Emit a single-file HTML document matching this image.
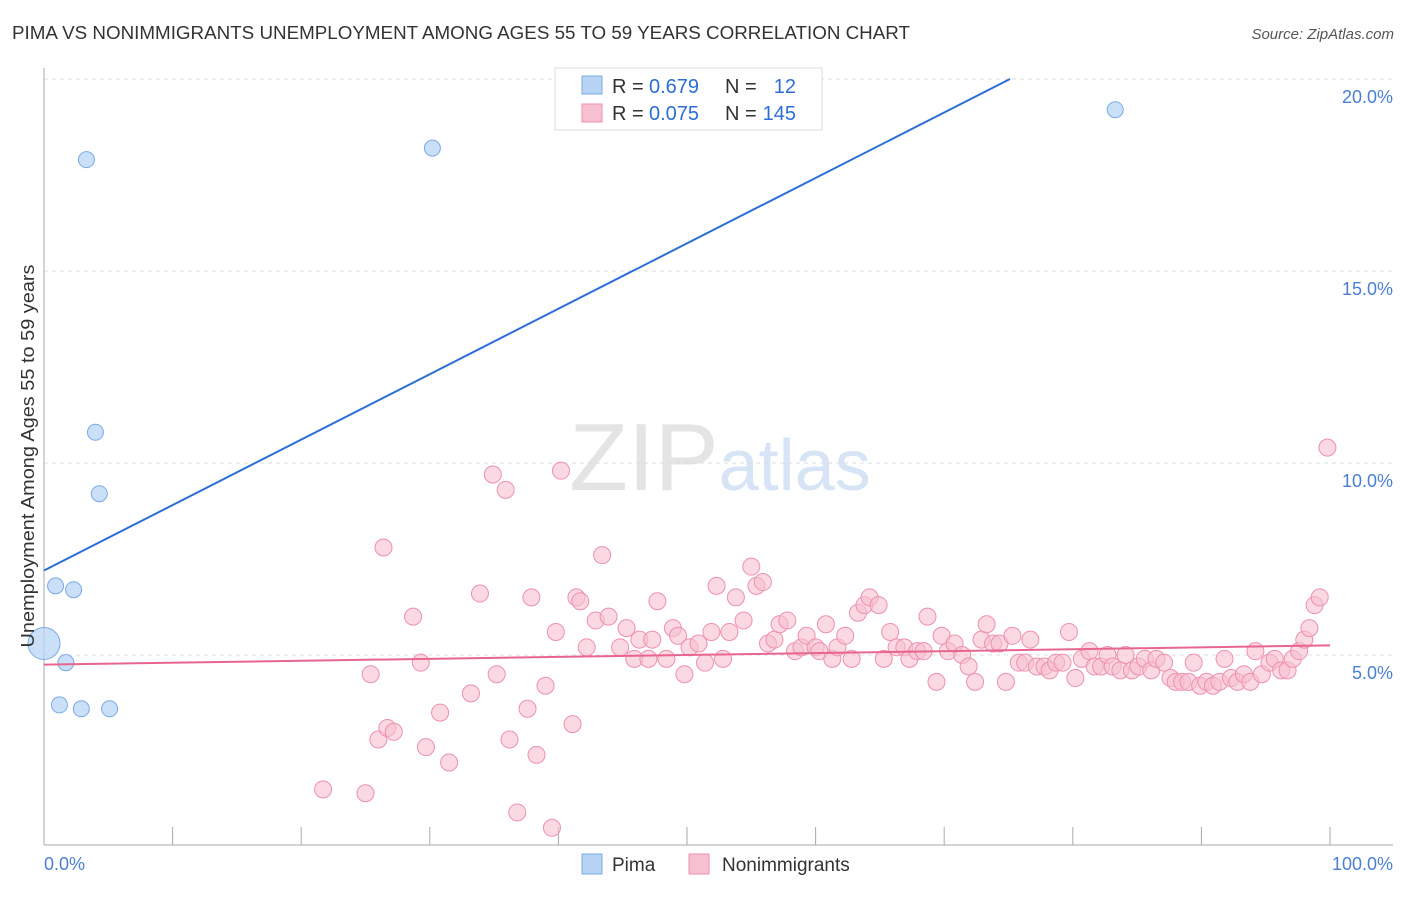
<!DOCTYPE html>
<html><head><meta charset="utf-8"><style>
body{margin:0;background:#fff;font-family:"Liberation Sans",sans-serif;}
svg text{font-family:"Liberation Sans",sans-serif;}
</style></head><body>
<svg id="chart" width="1406" height="892" xmlns="http://www.w3.org/2000/svg">
<text x="12" y="39" font-size="18" fill="#333" textLength="898" lengthAdjust="spacingAndGlyphs">PIMA VS NONIMMIGRANTS UNEMPLOYMENT AMONG AGES 55 TO 59 YEARS CORRELATION CHART</text>
<text x="1394" y="39" font-size="15" fill="#555" text-anchor="end" font-style="italic">Source: ZipAtlas.com</text>
<text x="720" y="490" font-size="96" text-anchor="middle" fill="#e4e4e4" font-family="Liberation Serif">ZIP<tspan fill="#d6e4f6" font-family="Liberation Sans" font-size="72">atlas</tspan></text>
<g id="grid"></g>
<g id="axes"></g>
<g id="pts"></g>
<g id="lines"></g>
<text transform="translate(34,456) rotate(-90)" font-size="18" fill="#333" text-anchor="middle" textLength="383" lengthAdjust="spacingAndGlyphs">Unemployment Among Ages 55 to 59 years</text>
<text x="44" y="870" font-size="18" fill="#4a7fd4">0.0%</text>
<text x="1393" y="870" font-size="18" fill="#4a7fd4" text-anchor="end">100.0%</text>
<g>
<rect x="555" y="68" width="267" height="62" fill="#fff" stroke="#ddd"/>
<rect x="582" y="76" width="20" height="18" fill="#b8d4f5" stroke="#7aaae6"/>
<rect x="582" y="104" width="20" height="18" fill="#f7c0d0" stroke="#ee90ae"/>
<text x="612" y="93" font-size="20" fill="#333">R =</text>
<text x="649" y="93" font-size="20" fill="#2b6fd6">0.679</text>
<text x="725" y="93" font-size="20" fill="#333">N =</text>
<text x="796" y="93" font-size="20" fill="#2b6fd6" text-anchor="end">12</text>
<text x="612" y="120" font-size="20" fill="#333">R =</text>
<text x="649" y="120" font-size="20" fill="#2b6fd6">0.075</text>
<text x="725" y="120" font-size="20" fill="#333">N =</text>
<text x="796" y="120" font-size="20" fill="#2b6fd6" text-anchor="end">145</text>
</g>
<g>
<rect x="582" y="854" width="20" height="20" fill="#b8d4f5" stroke="#7aaae6"/>
<text x="612" y="871" font-size="19" fill="#333">Pima</text>
<rect x="689" y="854" width="20" height="20" fill="#f7c0d0" stroke="#ee90ae"/>
<text x="722" y="871" font-size="19" fill="#333">Nonimmigrants</text>
</g>
</svg>
<script>
const yTicks=[5,10,15,20];
const yTickLabels=["5.0%","10.0%","15.0%","20.0%"];
const pimaX=[3.3,30.2,83.3,4.0,4.3,0.9,2.3,1.7,1.2,2.9,5.1,0];
const pimaY=[17.9,18.2,19.2,10.8,9.2,6.8,6.7,4.8,3.7,3.6,3.6,5.3];
const pimaR=[8,8,8,8,8,8,8,8,8,8,8,16];
const nonX=[21.7,25.0,25.4,26.0,26.4,26.7,27.2,28.7,29.3,29.7,30.8,31.5,33.2,33.9,34.9,35.2,35.9,36.2,36.8,37.6,37.9,38.3,39.0,39.5,39.8,40.2,41.1,41.4,41.7,42.2,42.9,43.4,43.9,44.8,45.3,45.9,46.3,47.0,47.3,47.7,48.4,48.9,49.3,49.8,50.2,50.9,51.4,51.9,52.3,52.8,53.3,53.8,54.4,55.0,55.4,55.9,56.3,56.8,57.2,57.8,58.4,58.9,59.3,60.0,60.3,60.8,61.3,61.7,62.3,62.8,63.3,63.8,64.2,64.9,65.3,65.8,66.3,66.9,67.3,67.9,68.4,68.7,69.4,69.8,70.3,70.8,71.4,71.9,72.4,72.9,73.3,73.8,74.3,74.8,75.3,75.8,76.3,76.7,77.2,77.8,78.2,78.7,79.2,79.7,80.2,80.7,81.3,81.7,82.2,82.7,83.1,83.7,84.1,84.6,85.1,85.6,86.1,86.5,87.1,87.6,88.0,88.5,89.0,89.4,89.9,90.4,90.9,91.4,91.8,92.3,92.8,93.3,93.8,94.2,94.7,95.3,95.7,96.2,96.7,97.1,97.6,98.0,98.4,98.8,99.2,99.8];
const nonY=[1.5,1.4,4.5,2.8,7.8,3.1,3.0,6.0,4.8,2.6,3.5,2.2,4.0,6.6,9.7,4.5,9.3,2.8,0.9,3.6,6.5,2.4,4.2,0.5,5.6,9.8,3.2,6.5,6.4,5.2,5.9,7.6,6.0,5.2,5.7,4.9,5.4,4.9,5.4,6.4,4.9,5.7,5.5,4.5,5.2,5.3,4.8,5.6,6.8,4.9,5.6,6.5,5.9,7.3,6.8,6.9,5.3,5.4,5.8,5.9,5.1,5.2,5.5,5.2,5.1,5.8,4.9,5.2,5.5,4.9,6.1,6.3,6.5,6.3,4.9,5.6,5.2,5.2,4.9,5.1,5.1,6.0,4.3,5.5,5.1,5.3,5.0,4.7,4.3,5.4,5.8,5.3,5.3,4.3,5.5,4.8,4.8,5.4,4.7,4.7,4.6,4.8,4.8,5.6,4.4,4.9,5.1,4.7,4.7,5.0,4.7,4.6,5.0,4.6,4.7,4.9,4.6,4.9,4.8,4.4,4.3,4.3,4.3,4.8,4.2,4.3,4.2,4.3,4.9,4.4,4.3,4.5,4.3,5.1,4.5,4.8,4.9,4.6,4.6,4.9,5.1,5.4,5.7,6.3,6.5,10.4];
const pimaTrend=[7.2,0.1704];
const nonTrend=[4.75,0.005];
const NS="http://www.w3.org/2000/svg";
const X=v=>44+v*12.86, Y=v=>847-v*38.4;
function mk(tag,attrs,parent){const e=document.createElementNS(NS,tag);for(const k in attrs)e.setAttribute(k,attrs[k]);document.getElementById(parent).appendChild(e);return e;}
yTicks.forEach((t,i)=>{
 const l=mk('line',{x1:44,x2:1393,y1:Y(t),y2:Y(t),stroke:'#ddd','stroke-dasharray':'4,4'},'grid');
 
 
 const tx=mk('text',{x:1393,y:Y(t)+24,'font-size':18,fill:'#4a7fd4','text-anchor':'end'},'grid');
 tx.textContent=yTickLabels[i];
 
 
});
const ax=mk('line',{x1:44,x2:1393,y1:845,y2:845,stroke:'#aaa'},'axes');


const ay=mk('line',{x1:44,x2:44,y1:68,y2:845,stroke:'#aaa'},'axes');


for(let i=0;i<=10;i++){const t=mk('line',{x1:X(i*10),x2:X(i*10),y1:827,y2:845,stroke:'#aaa'},'axes');
 
 }
nonX.forEach((x,i)=>{const c=mk('circle',{cx:X(x),cy:Y(nonY[i]),r:8.5,fill:'#f7c0d0','fill-opacity':0.6,stroke:'#ee90ae','stroke-width':1},'pts');
 
 });
pimaX.forEach((x,i)=>{const c=mk('circle',{cx:X(x),cy:Y(pimaY[i]),r:pimaR[i],fill:'#b8d4f5','fill-opacity':0.75,stroke:'#7aaae6','stroke-width':1},'pts');
 
 });
const pEnd=(20-pimaTrend[0])/pimaTrend[1];
const pl=mk('line',{x1:X(0),y1:Y(pimaTrend[0]),x2:X(pEnd),y2:Y(20),stroke:'#2b6fd6','stroke-width':2},'lines');


const nl=mk('line',{x1:X(0),y1:Y(nonTrend[0]),x2:X(100),y2:Y(nonTrend[0]+100*nonTrend[1]),stroke:'#e8668e','stroke-width':2},'lines');


</script>
</body></html>
